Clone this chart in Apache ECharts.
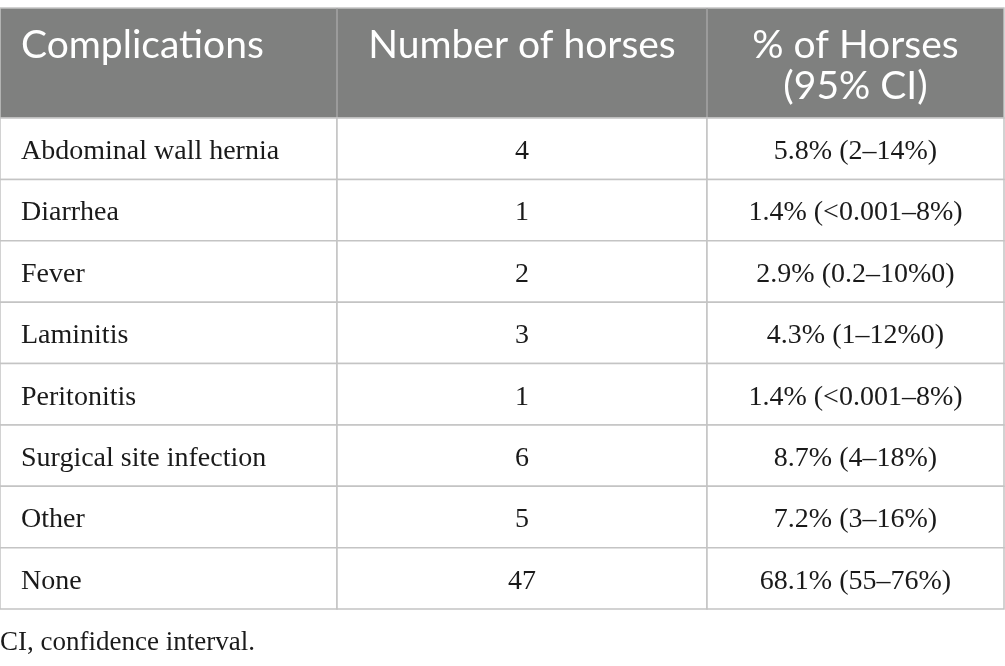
<!DOCTYPE html>
<html>
<head>
<meta charset="utf-8">
<script src="https://cdn.jsdelivr.net/npm/echarts@6/dist/echarts.min.js"></script>
<style>
  html, body { margin: 0; padding: 0; background: #fff; }
  #main { width: 1005px; height: 666px; }
</style>
</head>
<body>
<div id="main"></div>
<script>
// table content
const headers = ['Complications', 'Number of horses', '% of Horses\n(95% CI)'];
const complications = ['Abdominal wall hernia', 'Diarrhea', 'Fever', 'Laminitis', 'Peritonitis', 'Surgical site infection', 'Other', 'None'];
const horseCounts = [4, 1, 2, 3, 1, 6, 5, 47];
const percentCI = ['5.8% (2–14%)', '1.4% (<0.001–8%)', '2.9% (0.2–10%0)', '4.3% (1–12%0)', '1.4% (<0.001–8%)', '8.7% (4–18%)', '7.2% (3–16%)', '68.1% (55–76%)'];
const footnote = 'CI, confidence interval.';

// layout: column edges in x-axis units (pixels across the table)
const colEdges = [0, 337, 707, 1004];
const padLeft = 21;
const borderColor = '#c4c4c4';
const headerFill = '#7f807f';
const sansFont = 'Lato, "Open Sans", sans-serif';
const serifFont = '"Liberation Serif", "DejaVu Serif", serif';

const myChart = echarts.init(document.getElementById('main'));

function cellTexts(xs, top, h, values, isHeader) {
    const out = [];
    values.forEach((v, i) => {
        const left = i === 0;
        out.push({
            type: 'text',
            style: {
                text: String(v),
                x: left ? xs[0] + padLeft : (xs[i] + xs[i + 1]) / 2,
                y: isHeader ? top + 17 : top + h / 2 + 3,
                align: left ? 'left' : 'center',
                verticalAlign: isHeader ? 'top' : 'middle',
                fill: isHeader ? '#fff' : '#1a1a1a',
                font: isHeader ? '39px ' + sansFont : '28px ' + serifFont,
                lineHeight: 41
            }
        });
    });
    return out;
}

function renderHeader(params, api) {
    const c = api.coord([0, 0]);
    const h = api.size([0, 1])[1];
    const top = c[1] - h / 2;
    const xs = colEdges.map(v => api.coord([v, 0])[0]);
    const children = [{
        type: 'rect',
        shape: {x: xs[0], y: top, width: xs[3] - xs[0], height: h},
        style: {fill: headerFill, stroke: borderColor, lineWidth: 1.5}
    }];
    [1, 2].forEach(i => children.push({
        type: 'line',
        shape: {x1: xs[i], y1: top, x2: xs[i], y2: top + h},
        style: {stroke: '#a4a5a4', lineWidth: 1.5}
    }));
    return {type: 'group', children: children.concat(cellTexts(xs, top, h, headers, true))};
}

function renderRow(params, api) {
    const i = params.dataIndex;
    const c = api.coord([0, i]);
    const h = api.size([0, 1])[1];
    const top = c[1] - h / 2;
    const xs = colEdges.map(v => api.coord([v, i])[0]);
    const children = [];
    for (let k = 0; k < 3; k++) {
        children.push({
            type: 'rect',
            shape: {x: xs[k], y: top, width: xs[k + 1] - xs[k], height: h},
            style: {fill: '#fff', stroke: borderColor, lineWidth: 1.5}
        });
    }
    const vals = [complications[i], horseCounts[i], percentCI[i]];
    return {type: 'group', children: children.concat(cellTexts(xs, top, h, vals, false))};
}

const hiddenX = {type: 'value', min: 0, max: 1005, show: false};

var option = {
    animation: false,
    backgroundColor: '#fff',
    title: {
        text: footnote,
        left: 0,
        top: 629,
        padding: 0,
        textStyle: {fontFamily: serifFont, fontSize: 27, fontWeight: 'normal', color: '#1a1a1a'}
    },
    grid: [
        {left: 0, width: 1005, top: 8, height: 110},
        {left: 0, width: 1005, top: 118, height: 491}
    ],
    xAxis: [
        Object.assign({gridIndex: 0}, hiddenX),
        Object.assign({gridIndex: 1}, hiddenX)
    ],
    yAxis: [
        {gridIndex: 0, type: 'category', data: ['header'], show: false},
        {gridIndex: 1, type: 'category', data: complications, inverse: true, show: false}
    ],
    series: [
        {
            type: 'custom',
            xAxisIndex: 0,
            yAxisIndex: 0,
            renderItem: renderHeader,
            encode: {x: 0, y: 1},
            data: [[0, 'header']]
        },
        {
            type: 'custom',
            xAxisIndex: 1,
            yAxisIndex: 1,
            renderItem: renderRow,
            encode: {x: 0, y: 1},
            data: complications.map((name, i) => [horseCounts[i], i])
        }
    ]
};

myChart.setOption(option);
</script>
</body>
</html>
